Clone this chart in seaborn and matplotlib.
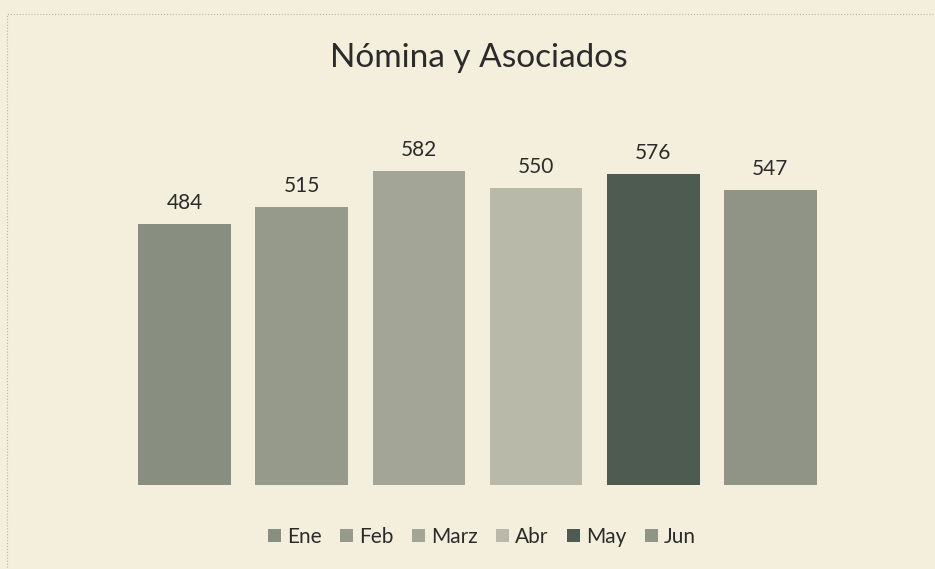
import matplotlib
matplotlib.use("Agg")
import matplotlib.pyplot as plt
import seaborn as sns
from matplotlib.patches import Rectangle

# Data
months = ["Ene", "Feb", "Marz", "Abr", "May", "Jun"]
values = [484, 515, 582, 550, 576, 547]
bar_colors = ["#888e80", "#959a8b", "#a3a696", "#b8b9a9", "#4d5b51", "#8f9487"]

paper = "#f4efdc"

sns.set_theme(style="white")
plt.rcParams["font.family"] = ["Lato", "DejaVu Sans"]

fig = plt.figure(figsize=(9.35, 5.69), dpi=100, facecolor=paper)
ax = fig.add_axes([126 / 935, 1 - 485 / 569, 703 / 935, 355 / 569])
ax.set_facecolor(paper)

sns.barplot(x=months, y=values, hue=months, palette=bar_colors,
            width=0.79, saturation=1, legend=True, linewidth=0, ax=ax)

# value labels above bars
for container in ax.containers:
    ax.bar_label(container, fmt="%d", padding=8, fontsize=15, color="#2b2b2b")

ax.set_ylim(0, 658)
ax.set_xlim(-0.5, len(months) - 0.5)
ax.set_xticks([])
ax.set_yticks([])
ax.set_xlabel("")
ax.set_ylabel("")
for side in ax.spines.values():
    side.set_visible(False)

# legend at the bottom, in one row
handles, labels = ax.get_legend_handles_labels()
ax.legend(handles, labels, loc="center", bbox_to_anchor=(482 / 935, 1 - 537 / 569),
          bbox_transform=fig.transFigure, ncol=6, frameon=False, fontsize=15,
          handlelength=0.6, handleheight=0.6, handletextpad=0.3, columnspacing=0.9,
          labelcolor="#2b2b2b")

fig.text(479 / 935, 1 - 58 / 569, "Nómina y Asociados", ha="center", va="center",
         fontsize=24, color="#2b2b2b")

# faint dotted chart-area border
fig.patches.append(Rectangle((7 / 935, -0.1), 1.1, 1 - 14 / 569 + 0.1,
                             transform=fig.transFigure, fill=False,
                             edgecolor="#b9b5a5", linewidth=0.8, linestyle=":"))

fig.savefig("out.png", dpi=100, facecolor=paper)
